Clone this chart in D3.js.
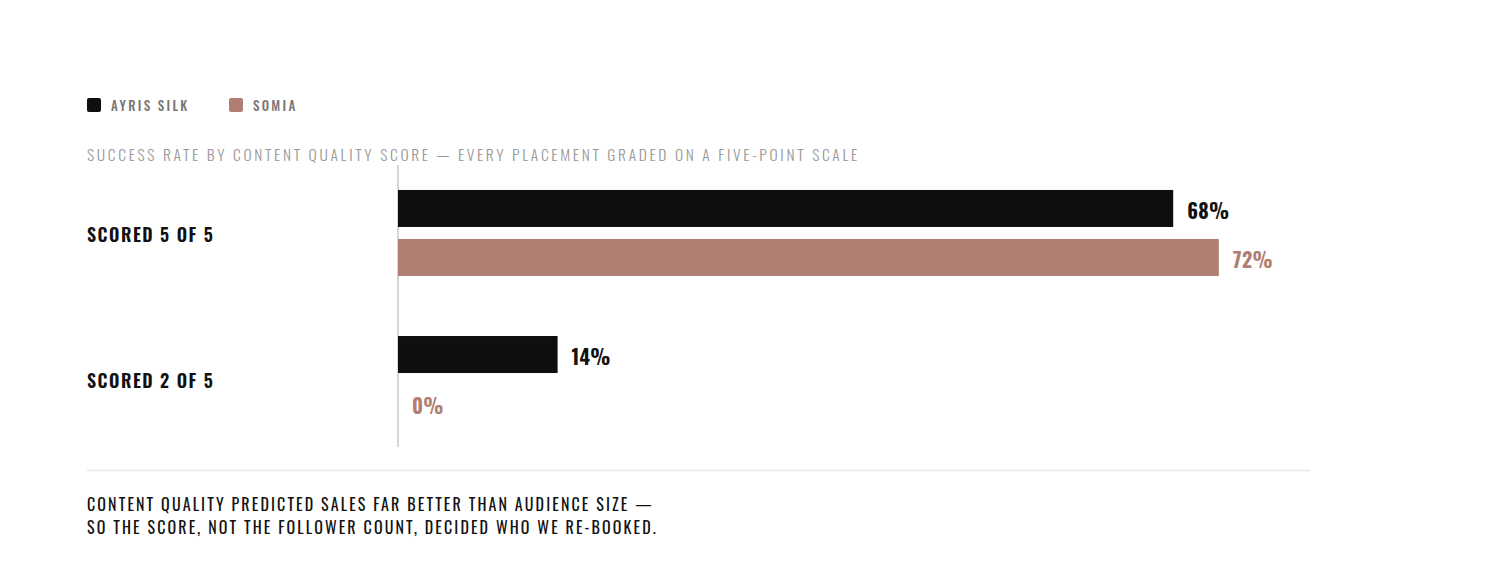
<!DOCTYPE html>
<html><head><meta charset="utf-8">
<script src="https://cdn.jsdelivr.net/npm/d3@7/dist/d3.min.js"></script>
<style>
body{margin:0;background:#fff;}
svg{display:block;font-family:Oswald,'Liberation Sans Narrow','DejaVu Sans Condensed',sans-serif;}
</style></head><body>
<svg id="c" width="1500" height="577"></svg>
<script>
const categories = ["SCORED 5 OF 5", "SCORED 2 OF 5"];
const seriesNames = ["AYRIS SILK", "SOMIA"];
const ayrisSilk = [68, 14];
const somia = [72, 0];
const colors = ["#0f0f0f", "#b07e72"];
const subtitle = "SUCCESS RATE BY CONTENT QUALITY SCORE — EVERY PLACEMENT GRADED ON A FIVE-POINT SCALE";
const footer = ["CONTENT QUALITY PREDICTED SALES FAR BETTER THAN AUDIENCE SIZE —", "SO THE SCORE, NOT THE FOLLOWER COUNT, DECIDED WHO WE RE-BOOKED."];

const svg = d3.select("#c");
const series = [ayrisSilk, somia];
const data = categories.map((c, i) => ({cat: c, vals: series.map((s, j) => ({name: seriesNames[j], v: s[i], j}))}));

const x = d3.scaleLinear().domain([0, 100]).range([398, 1538]);
const y = d3.scaleBand().domain(categories).range([165, 447]).paddingInner(0.411).paddingOuter(0.171);
const y1 = d3.scaleBand().domain(seriesNames).range([0, y.bandwidth()]).paddingInner(0.245).paddingOuter(0);
const color = d3.scaleOrdinal().domain(seriesNames).range(colors);

// legend
const leg = svg.append("g").selectAll("g").data(seriesNames).join("g")
  .attr("transform", (d, i) => `translate(${[87, 229][i]},98)`);
leg.append("rect").attr("width", 14).attr("height", 14).attr("rx", 2).attr("fill", d => color(d));
leg.append("text").attr("x", 24).attr("y", 12.5).attr("fill", "#777").attr("font-size", 13)
  .attr("font-weight", 500).attr("letter-spacing", 2.3).text(d => d);

// subtitle
svg.append("text").attr("x", 87).attr("y", 161).attr("fill", "#999").attr("font-size", 15.5)
  .attr("font-weight", 300).attr("letter-spacing", 2.68).text(subtitle);

// axis line
svg.append("line").attr("x1", x(0)).attr("x2", x(0)).attr("y1", 165).attr("y2", 447)
  .attr("stroke", "#c8c8c8").attr("stroke-width", 1.5);

const g = svg.append("g").selectAll("g").data(data).join("g")
  .attr("transform", d => `translate(0,${y(d.cat)})`);

g.append("text").attr("x", 87).attr("y", y.bandwidth() / 2 + 3).attr("dy", "0.36em")
  .attr("font-size", 18).attr("font-weight", 600).attr("letter-spacing", 1.5).attr("fill", "#111")
  .text(d => d.cat);

g.selectAll("rect").data(d => d.vals).join("rect")
  .attr("x", x(0)).attr("y", d => y1(d.name)).attr("height", y1.bandwidth())
  .attr("width", d => x(d.v) - x(0)).attr("fill", d => color(d.name));

g.selectAll("text.val").data(d => d.vals).join("text").attr("class", "val")
  .attr("x", d => x(d.v) + 14).attr("y", d => y1(d.name) + y1.bandwidth() / 2 + 3).attr("dy", "0.36em")
  .attr("font-size", 20).attr("font-weight", 700).attr("letter-spacing", 0.3).attr("fill", d => d.j === 0 ? "#111" : colors[1])
  .text(d => d.v + "%");

// separator
svg.append("line").attr("x1", 87).attr("x2", 1310).attr("y1", 470.5).attr("y2", 470.5)
  .attr("stroke", "#e8e8e8").attr("stroke-width", 1.5);

svg.append("g").selectAll("text").data(footer).join("text")
  .attr("x", 87).attr("y", (d, i) => 510.5 + i * 23).attr("font-size", 16).attr("fill", "#111")
  .attr("letter-spacing", 2.12).text(d => d);
</script>
</body></html>
